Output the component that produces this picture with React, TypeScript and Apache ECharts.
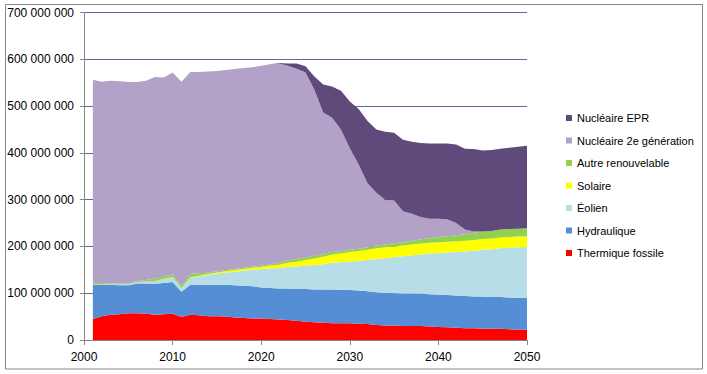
import { useEffect, useRef } from "react";
import * as echarts from "echarts";

const axisYears = [
  "2000", "2001", "2002", "2003", "2004", "2005", "2006", "2007", "2008", "2009", "2010",
  "2011", "2012", "2013", "2014", "2015", "2016", "2017", "2018", "2019", "2020",
  "2021", "2022", "2023", "2024", "2025", "2026", "2027", "2028", "2029", "2030",
  "2031", "2032", "2033", "2034", "2035", "2036", "2037", "2038", "2039", "2040",
  "2041", "2042", "2043", "2044", "2045", "2046", "2047", "2048", "2049", "2050",
];

// values in millions, years 2001..2050
const thermique = [
  45, 51, 54, 55, 57, 57, 56, 54, 55, 56,
  49, 54, 53, 51, 51, 50, 48, 47, 46, 46,
  45, 44, 43, 41, 39, 38, 37, 36, 36, 36,
  35, 34, 32, 31, 31, 30, 30, 30, 29, 28,
  27, 26, 25, 25, 24, 24, 24, 23, 22, 22,
];
const hydraulique = [
  73, 67, 64, 62, 60, 64, 65, 66, 67, 68,
  54, 64, 65, 67, 67, 68, 69, 69, 69, 66,
  66, 66, 67, 68, 70, 70, 71, 72, 71, 71,
  71, 70, 70, 70, 69, 69, 69, 69, 69, 69,
  69, 69, 69, 68, 69, 68, 68, 68, 68, 68,
];
const eolien = [
  0.5, 1, 1, 1.5, 2, 3, 4, 6, 8, 10,
  7, 15, 18, 21, 24, 26, 29, 32, 35, 39,
  42, 44, 46, 48, 50, 52, 54, 57, 59, 61,
  63, 67, 71, 74, 77, 80, 82, 84, 87, 89,
  91, 93, 95, 98, 100, 102, 104, 106, 108, 109,
];
const solaire = [
  0, 0, 0, 0, 0, 0, 0, 0.2, 0.3, 0.5,
  0.5, 1, 1.5, 2, 2.5, 3, 3.5, 4, 4.5, 5,
  6, 7, 9, 10, 12, 14, 16, 18, 19, 20,
  21, 22, 23, 23, 23, 23, 23, 23, 23, 23,
  23, 23, 23, 23, 23, 23, 23, 23, 23, 23,
];
const autre = [
  4, 3, 2, 2, 2, 2, 3, 5, 5, 6,
  3.5, 7, 5, 2.5, 2.5, 2.5, 2.5, 2.5, 2.5, 2.5,
  3, 4, 5, 6, 6, 6, 6, 5, 5, 5,
  5, 5, 6, 6, 7, 7, 8, 9, 10, 11,
  12, 13, 14, 15, 16, 16, 17, 17, 17, 17,
];
const nucleaire2 = [
  433.5, 430, 433, 432.5, 430.5, 425.5, 426, 430.8, 425.7, 431.5,
  438, 432, 430.5, 430.5, 428, 427.5, 427, 427, 426, 427.5,
  427.5, 426, 416, 407, 395, 355, 302, 287, 260, 217,
  180, 137, 113, 95, 91, 66, 58, 48, 41, 39,
  36, 26, 10, 3, 0, 0, 0, 0, 0, 0,
];
const epr = [
  0, 0, 0, 0, 0, 0, 0, 0, 0, 0,
  0, 0, 0, 0, 0, 0, 0, 0, 0, 0,
  0, 1, 5, 11, 13, 28, 60, 67, 83, 100,
  119, 133, 135, 146, 145, 153, 154, 158, 161, 161,
  162, 168, 173, 176, 173, 173, 173, 174, 175, 176,
];

const seriesDefs = [
  { name: "Thermique fossile", color: "#FF0000", values: thermique },
  { name: "Hydraulique", color: "#558ED5", values: hydraulique },
  { name: "Éolien", color: "#B7DEE8", values: eolien },
  { name: "Solaire", color: "#FFFF00", values: solaire },
  { name: "Autre renouvelable", color: "#92D050", values: autre },
  { name: "Nucléaire 2e génération", color: "#B3A2C7", values: nucleaire2 },
  { name: "Nucléaire EPR", color: "#604A7B", values: epr },
];

const legendOrder = [
  "Nucléaire EPR",
  "Nucléaire 2e génération",
  "Autre renouvelable",
  "Solaire",
  "Éolien",
  "Hydraulique",
  "Thermique fossile",
];

const fmt = (v: number) =>
  String(Math.round(v * 1000000)).replace(/\B(?=(\d{3})+(?!\d))/g, " ");

export default function App() {
  const ref = useRef<HTMLDivElement>(null);
  useEffect(() => {
    document.body.style.margin = "0";
    const chart = echarts.init(ref.current!, null, { renderer: "svg" });
    const font = "'Liberation Sans', Arial, sans-serif";
    chart.setOption({
      animation: false,
      backgroundColor: "#FFFFFF",
      grid: { left: 84, right: 180, top: 12.5, bottom: 34, containLabel: false },
      legend: {
        orient: "vertical",
        left: 561,
        top: 106,
        icon: "rect",
        itemWidth: 6,
        itemHeight: 6,
        itemGap: 8.5,
        data: legendOrder,
        selectedMode: false,
        textStyle: { fontFamily: font, fontSize: 11, color: "#000", lineHeight: 14 },
      },
      xAxis: {
        type: "category",
        data: axisYears,
        boundaryGap: false,
        splitLine: { show: false },
        axisLine: { lineStyle: { color: "#868686", width: 1 } },
        axisTick: { show: true, length: 5, interval: 9, lineStyle: { color: "#868686" } },
        axisLabel: { fontFamily: font, fontSize: 12, color: "#000", margin: 11, interval: 9 },
      },
      yAxis: {
        type: "value",
        min: 0,
        max: 700,
        interval: 100,
        splitLine: { show: true, lineStyle: { color: "#64649E", width: 1 } },
        axisLine: { show: true, lineStyle: { color: "#868686", width: 1 } },
        axisTick: { show: true, length: 4, lineStyle: { color: "#868686" } },
        axisLabel: { fontFamily: font, fontSize: 12, color: "#000", margin: 10, formatter: fmt },
      },
      series: seriesDefs.map((s) => ({
        name: s.name,
        type: "line",
        stack: "total",
        symbol: "none",
        data: [null, ...s.values],
        lineStyle: { width: 0 },
        itemStyle: { color: s.color },
        areaStyle: { color: s.color, opacity: 1 },
        emphasis: { disabled: true },
      })),
      graphic: [
        {
          type: "rect",
          shape: { x: 5.5, y: 4.5, width: 697, height: 364.5 },
          style: { fill: "none", stroke: "#868686", lineWidth: 1 },
          silent: true,
        },
      ],
    });
    return () => chart.dispose();
  }, []);
  return <div ref={ref} style={{ width: 707, height: 374 }} />;
}
